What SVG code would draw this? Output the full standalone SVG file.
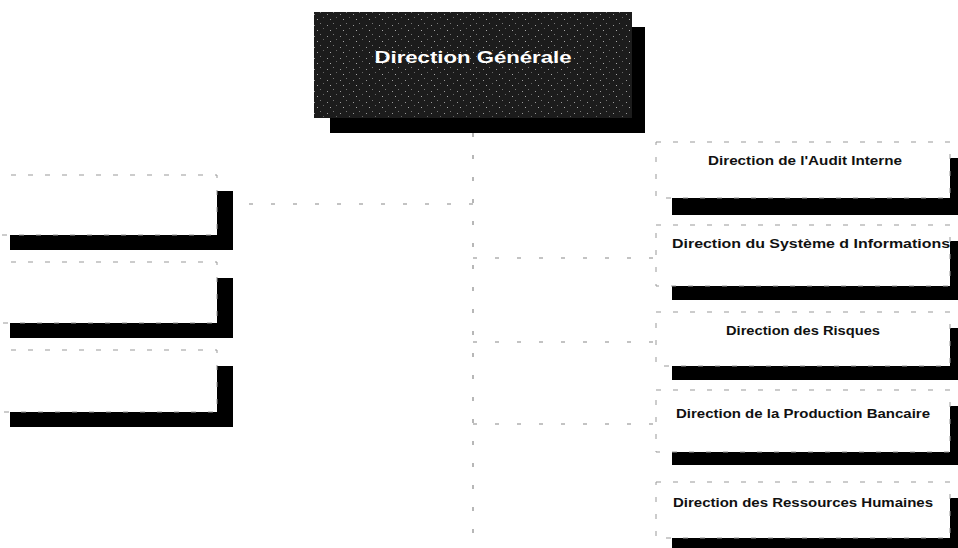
<svg xmlns="http://www.w3.org/2000/svg" width="958" height="548" viewBox="0 0 958 548">
<style>
.shadow{fill:#000}
.box{fill:#fff;stroke:#999;stroke-width:1;stroke-dasharray:5 12}
.conn{stroke:#888;stroke-width:1.2;stroke-dasharray:4 18;fill:none}
.lbl{font-family:"Liberation Sans",Arial,sans-serif;font-weight:bold;font-size:12px;fill:#111}
.top{font-family:"Liberation Sans",Arial,sans-serif;font-weight:bold;font-size:16px;fill:#fff}
</style>
<defs>
<pattern id="grain" width="13" height="11" patternUnits="userSpaceOnUse">
<rect width="13" height="11" fill="#1c1c1c"/>
<rect x="2" y="3" width="1" height="1" fill="#9a9a9a"/>
<rect x="8" y="1" width="1" height="1" fill="#777"/>
<rect x="5" y="8" width="1" height="1" fill="#aaa"/>
<rect x="11" y="6" width="1" height="1" fill="#666"/>
</pattern>
</defs>
<rect width="958" height="548" fill="#fff"/>
<g id="connectors">
<path class="conn" d="M473 133 V545"/>
<path class="conn" d="M473 204 H240"/>
<path class="conn" d="M473 258 H655"/>
<path class="conn" d="M473 342 H655"/>
<path class="conn" d="M473 424 H655"/>
</g>
<g id="dg">
<rect class="shadow" x="330" y="27" width="315" height="106"/>
<rect x="314" y="12" width="318" height="106" fill="url(#grain)"/>
<text class="top" x="473" y="63" text-anchor="middle" textLength="197" lengthAdjust="spacingAndGlyphs">Direction Générale</text>
</g>
<g id="audit">
<rect class="shadow" x="672" y="158" width="294" height="57"/>
<rect class="box" x="656" y="142" width="294" height="56"/>
<text class="lbl" x="805" y="165" text-anchor="middle" textLength="194" lengthAdjust="spacingAndGlyphs">Direction de l'Audit Interne</text>
</g>
<g id="si">
<rect class="shadow" x="672" y="241" width="294" height="59"/>
<rect class="box" x="656" y="225" width="294" height="61"/>
<text class="lbl" x="811" y="248" text-anchor="middle" textLength="278" lengthAdjust="spacingAndGlyphs">Direction du Système d Informations</text>
</g>
<g id="risques">
<rect class="shadow" x="672" y="328" width="294" height="52"/>
<rect class="box" x="656" y="312" width="294" height="54"/>
<text class="lbl" x="803" y="335" text-anchor="middle" textLength="154" lengthAdjust="spacingAndGlyphs">Direction des Risques</text>
</g>
<g id="production">
<rect class="shadow" x="672" y="406" width="294" height="59"/>
<rect class="box" x="656" y="390" width="294" height="62"/>
<text class="lbl" x="803" y="418" text-anchor="middle" textLength="254" lengthAdjust="spacingAndGlyphs">Direction de la Production Bancaire</text>
</g>
<g id="rh">
<rect class="shadow" x="672" y="498" width="294" height="52"/>
<rect class="box" x="656" y="482" width="294" height="56"/>
<text class="lbl" x="803" y="507" text-anchor="middle" textLength="260" lengthAdjust="spacingAndGlyphs">Direction des Ressources Humaines</text>
</g>
<g id="left1">
<rect class="shadow" x="10" y="191" width="223" height="59"/>
<rect class="box" x="-6" y="175" width="223" height="60"/>
</g>
<g id="left2">
<rect class="shadow" x="10" y="278" width="223" height="60"/>
<rect class="box" x="-6" y="262" width="223" height="61"/>
</g>
<g id="left3">
<rect class="shadow" x="10" y="366" width="223" height="61"/>
<rect class="box" x="-6" y="350" width="223" height="62"/>
</g>
</svg>
